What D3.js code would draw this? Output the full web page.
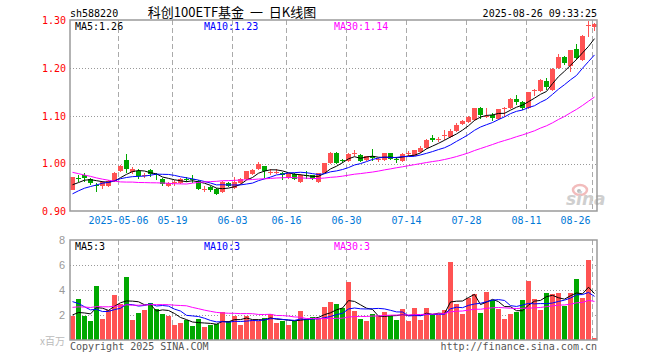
<!DOCTYPE html>
<html>
<head>
<meta charset="utf-8">
<script src="https://cdn.jsdelivr.net/npm/d3@7"></script>
<style>
  body { margin: 0; background: #fff; }
</style>
</head>
<body>
<svg id="chart" width="660" height="360"></svg>
<script>
const dates = [
  '2025-04-21','2025-04-22','2025-04-23','2025-04-24','2025-04-25','2025-04-28','2025-04-29','2025-04-30',
  '2025-05-06','2025-05-07','2025-05-08','2025-05-09','2025-05-12','2025-05-13','2025-05-14','2025-05-15','2025-05-16',
  '2025-05-19','2025-05-20','2025-05-21','2025-05-22','2025-05-23','2025-05-26','2025-05-27','2025-05-28','2025-05-29','2025-05-30',
  '2025-06-03','2025-06-04','2025-06-05','2025-06-06','2025-06-09','2025-06-10','2025-06-11','2025-06-12','2025-06-13',
  '2025-06-16','2025-06-17','2025-06-18','2025-06-19','2025-06-20','2025-06-23','2025-06-24','2025-06-25','2025-06-26','2025-06-27',
  '2025-06-30','2025-07-01','2025-07-02','2025-07-03','2025-07-04','2025-07-07','2025-07-08','2025-07-09','2025-07-10','2025-07-11',
  '2025-07-14','2025-07-15','2025-07-16','2025-07-17','2025-07-18','2025-07-21','2025-07-22','2025-07-23','2025-07-24','2025-07-25',
  '2025-07-28','2025-07-29','2025-07-30','2025-07-31','2025-08-01','2025-08-04','2025-08-05','2025-08-06','2025-08-07','2025-08-08',
  '2025-08-11','2025-08-12','2025-08-13','2025-08-14','2025-08-15','2025-08-18','2025-08-19','2025-08-20','2025-08-21','2025-08-22',
  '2025-08-25','2025-08-26'
];

const open = [
  0.945,0.970,0.977,0.968,0.955,0.953,0.954,0.963,0.985,1.008,
  0.983,0.984,0.974,0.986,0.978,0.968,0.954,0.959,0.960,0.969,
  0.969,0.963,0.945,0.951,0.947,0.940,0.960,0.950,0.960,0.969,
  0.979,0.988,0.995,0.981,0.981,0.980,0.970,0.979,0.962,0.976,
  0.976,0.962,0.981,1.001,1.023,1.007,1.005,1.021,1.019,1.007,
  1.016,1.008,1.008,1.022,1.010,1.006,1.021,1.017,1.024,1.032,
  1.053,1.050,1.058,1.055,1.068,1.083,1.087,1.091,1.116,1.097,
  1.102,1.093,1.116,1.117,1.136,1.130,1.117,1.152,1.153,1.173,
  1.155,1.200,1.223,1.205,1.241,1.217,1.289,1.286
];
const high = [
  0.973,0.977,0.981,0.971,0.960,0.963,0.966,0.983,0.998,1.021,
  0.993,0.990,0.981,0.990,0.981,0.971,0.962,0.966,0.970,0.972,
  0.977,0.965,0.953,0.953,0.949,0.963,0.961,0.972,0.971,0.985,
  0.990,1.003,0.996,0.990,0.988,0.982,0.981,0.980,0.978,0.985,
  0.977,0.981,1.002,1.024,1.024,1.010,1.022,1.028,1.020,1.017,
  1.030,1.013,1.023,1.023,1.014,1.022,1.027,1.029,1.037,1.051,
  1.060,1.057,1.070,1.073,1.085,1.092,1.099,1.117,1.118,1.117,
  1.107,1.115,1.118,1.137,1.144,1.132,1.151,1.157,1.177,1.179,
  1.200,1.230,1.225,1.239,1.251,1.269,1.300,1.294
];
const low = [
  0.944,0.962,0.961,0.955,0.941,0.948,0.952,0.962,0.983,0.981,
  0.979,0.968,0.970,0.973,0.966,0.954,0.951,0.954,0.958,0.962,
  0.960,0.945,0.940,0.940,0.934,0.938,0.951,0.948,0.958,0.967,
  0.977,0.986,0.970,0.977,0.978,0.966,0.969,0.965,0.960,0.968,
  0.966,0.960,0.980,1.000,1.000,1.001,1.004,1.016,1.004,1.005,
  1.005,1.003,1.006,1.007,1.001,1.004,1.017,1.016,1.022,1.030,
  1.046,1.046,1.050,1.053,1.066,1.081,1.085,1.090,1.093,1.096,
  1.089,1.092,1.097,1.115,1.123,1.113,1.115,1.141,1.150,1.155,
  1.153,1.198,1.207,1.193,1.218,1.215,1.265,1.277
];
const close = [
  0.972,0.968,0.970,0.960,0.953,0.961,0.963,0.981,0.996,0.988,
  0.990,0.974,0.976,0.978,0.976,0.957,0.960,0.961,0.968,0.966,
  0.967,0.948,0.947,0.946,0.937,0.961,0.954,0.962,0.969,0.984,
  0.987,0.999,0.984,0.983,0.983,0.976,0.980,0.969,0.977,0.974,
  0.968,0.980,1.001,1.023,1.002,1.005,1.021,1.023,1.006,1.016,
  1.013,1.010,1.022,1.009,1.008,1.021,1.023,1.028,1.034,1.050,
  1.050,1.052,1.060,1.068,1.082,1.090,1.098,1.116,1.103,1.099,
  1.095,1.114,1.117,1.136,1.130,1.117,1.150,1.154,1.176,1.160,
  1.199,1.223,1.211,1.238,1.221,1.268,1.291,1.292
];
// volume in millions of shares
const volume = [
  1.92,3.28,1.92,1.52,4.32,1.68,2.4,3.6,2.9,5.04,
  1.6,2.16,2.4,2.96,2.45,2.08,1.92,1.2,1.36,1.6,
  1.12,1.68,1.04,1.2,1.28,2.24,1.52,1.92,1.2,1.92,
  1.6,1.52,1.76,2.08,1.36,1.52,1.2,1.52,2.32,1.68,
  1.84,1.68,2.64,3.04,2.88,2.56,4.64,2.32,1.68,1.52,
  2.08,1.92,2.24,1.92,1.6,2.48,1.52,2.56,1.6,2.56,
  2.0,2.0,2.4,6.24,2.88,2.08,3.4,3.65,2.16,3.84,
  3.2,2.5,1.68,2.1,2.24,3.2,4.72,3.28,2.4,3.76,
  3.7,3.76,2.72,3.76,4.88,3.36,6.4,0.16
];

// sessions before the visible window, estimated from where the MA lines start
const prevClose = [
  1.05,1.06,1.04,1.05,1.04,1.03,1.04,1.042,1.00,0.99,
  1.00,0.98,0.99,0.98,0.97,0.98,0.985,0.978,0.975,0.91,
  0.905,0.915,0.925,0.92,0.925,0.945,0.945,0.955,0.963
];
const prevVolume = [
  2.0,2.4,2.6,2.2,2.1,2.5,2.3,2.0,2.4,2.6,
  2.2,1.9,2.1,2.3,2.0,2.2,2.4,2.1,2.3,5.0,
  4.8,4.5,4.0,3.9,3.48,2.3,2.1,1.9,1.8
];

const priceTicks = [0.9, 1.0, 1.1, 1.2, 1.3];
const volumeTicks = [2, 4, 6, 8];
const tickDates = ['2025-05-06','2025-05-19','2025-06-03','2025-06-16','2025-06-30','2025-07-14','2025-07-28','2025-08-11','2025-08-26'];
const tickLabels = ['2025-05-06','05-19','06-03','06-16','06-30','07-14','07-28','08-11','08-26'];

const RED = '#ff5353', GREEN = '#00a800';
const mono = '"DejaVu Sans Mono", monospace';

const svg = d3.select('#chart');

const x = d3.scaleBand().domain(dates).range([70, 598]);
const y = d3.scaleLinear().domain([0.9, 1.3]).range([211.5, 20.5]);
const yv = d3.scaleLinear().domain([0, 8]).range([340, 240]);
const cx = d => x(d) + 2.5;

const movingAvg = (series, prev, n) => {
  const all = prev.concat(series);
  return series.map((_, i) => d3.mean(all.slice(i + prev.length - n + 1, i + prev.length + 1)));
};

const rows = dates.map((d, i) => ({
  date: d, o: open[i], h: high[i], l: low[i], c: close[i], v: volume[i],
  up: close[i] >= open[i]
}));

// grid
const grid = svg.append('g');
grid.selectAll('.hgrid')
  .data([1.0, 1.1, 1.2])
  .enter().append('line')
  .attr('x1', 70).attr('x2', 597)
  .attr('y1', d => Math.round(y(d)) + 0.5).attr('y2', d => Math.round(y(d)) + 0.5)
  .attr('stroke', '#999').attr('stroke-dasharray', '1,2');
grid.selectAll('.vgrid')
  .data([2, 4, 6])
  .enter().append('line')
  .attr('x1', 70).attr('x2', 597)
  .attr('y1', d => Math.round(yv(d)) + 0.5).attr('y2', d => Math.round(yv(d)) + 0.5)
  .attr('stroke', '#999').attr('stroke-dasharray', '1,2');
[[20, 211], [240, 340]].forEach(([t, b]) => {
  grid.append('g').selectAll('line')
    .data(tickDates)
    .enter().append('line')
    .attr('x1', d => x(d) + 0.5).attr('x2', d => x(d) + 0.5)
    .attr('y1', t).attr('y2', b)
    .attr('stroke', '#aaa').attr('stroke-dasharray', '5,3');
});

// sina watermark
const wm = svg.append('g');
wm.append('ellipse').attr('cx', 580).attr('cy', 190).attr('rx', 7).attr('ry', 5)
  .attr('fill', 'none').attr('stroke', '#f2bcbc').attr('stroke-width', 2.5);
wm.append('circle').attr('cx', 579).attr('cy', 191).attr('r', 2).attr('fill', '#bbb');
wm.append('text').attr('x', 566).attr('y', 205)
  .attr('font-family', 'DejaVu Sans').attr('font-size', 17).attr('font-weight', 'bold')
  .attr('font-style', 'italic').attr('fill', '#cfcfcf').text('sina');

// candles
const candles = svg.append('g').attr('shape-rendering', 'crispEdges');
candles.selectAll('.wick')
  .data(rows)
  .enter().append('line')
  .attr('x1', d => cx(d.date)).attr('x2', d => cx(d.date))
  .attr('y1', d => y(d.h)).attr('y2', d => y(d.l))
  .attr('stroke', d => d.up ? RED : GREEN);
candles.selectAll('.body')
  .data(rows)
  .enter().append('rect')
  .attr('x', d => x(d.date))
  .attr('width', 5)
  .attr('y', d => y(Math.max(d.o, d.c)))
  .attr('height', d => Math.max(1, y(Math.min(d.o, d.c)) - y(Math.max(d.o, d.c))))
  .attr('fill', d => d.up ? RED : GREEN);

// volume bars
svg.append('g').attr('shape-rendering', 'crispEdges')
  .selectAll('rect')
  .data(rows)
  .enter().append('rect')
  .attr('x', d => x(d.date))
  .attr('width', 5)
  .attr('y', d => yv(d.v))
  .attr('height', d => 340 - yv(d.v))
  .attr('fill', d => d.up ? RED : GREEN);

// moving averages
const maDefs = [
  { n: 5, color: '#000', lx: 75 },
  { n: 10, color: '#0000ff', lx: 204 },
  { n: 30, color: '#ff00ff', lx: 334 }
];
maDefs.forEach(m => {
  const pm = movingAvg(close, prevClose, m.n);
  const vm = movingAvg(volume, prevVolume, m.n);
  svg.append('path')
    .datum(pm)
    .attr('fill', 'none').attr('stroke', m.color).attr('stroke-width', 1)
    .attr('d', d3.line().x((d, i) => cx(dates[i])).y(d => y(d)));
  svg.append('path')
    .datum(vm)
    .attr('fill', 'none').attr('stroke', m.color).attr('stroke-width', 1)
    .attr('d', d3.line().x((d, i) => cx(dates[i])).y(d => yv(d)));
  svg.append('text').attr('x', m.lx).attr('y', 30)
    .attr('font-family', mono).attr('font-size', 10).attr('fill', m.color)
    .text(`MA${m.n}:${pm[pm.length - 1].toFixed(2)}`);
  svg.append('text').attr('x', m.lx).attr('y', 250)
    .attr('font-family', mono).attr('font-size', 10).attr('fill', m.color)
    .text(`MA${m.n}:${Math.floor(vm[vm.length - 1])}`);
});

// frames
svg.append('rect').attr('x', 70).attr('y', 20).attr('width', 527).attr('height', 191)
  .attr('fill', 'none').attr('stroke', '#9a9a9a').attr('stroke-width', 1.5);
svg.append('rect').attr('x', 70).attr('y', 240).attr('width', 527).attr('height', 100)
  .attr('fill', 'none').attr('stroke', '#9a9a9a').attr('stroke-width', 1.5);

// price axis
svg.append('g')
  .attr('transform', 'translate(70,0)')
  .call(d3.axisLeft(y).tickValues(priceTicks).tickFormat(d3.format('.2f')).tickSize(0).tickPadding(4))
  .call(g => g.select('.domain').remove())
  .selectAll('text')
  .attr('font-family', mono).attr('font-size', 10).attr('fill', '#f00');

// volume axis
svg.append('g')
  .attr('transform', 'translate(70,0)')
  .call(d3.axisLeft(yv).tickValues(volumeTicks).tickSize(0).tickPadding(5))
  .call(g => g.select('.domain').remove())
  .selectAll('text')
  .attr('font-family', 'Liberation Sans, sans-serif').attr('font-size', 11).attr('fill', '#999');
svg.append('text').attr('x', 65).attr('y', 345).attr('text-anchor', 'end')
  .attr('font-family', 'Noto Sans CJK SC, sans-serif').attr('font-size', 10).attr('fill', '#bbb')
  .text('x百万');

// date axis
const dateAxis = svg.append('g')
  .attr('transform', 'translate(-2.5,211)')
  .call(d3.axisBottom(x).tickValues(tickDates).tickFormat((d, i) => tickLabels[i]).tickSize(0).tickPadding(6))
  .call(g => g.select('.domain').remove());
dateAxis.selectAll('text')
  .attr('font-family', mono).attr('font-size', 10).attr('fill', '#0078d7');
dateAxis.selectAll('text').filter((d, i) => i === tickDates.length - 1)
  .attr('text-anchor', 'end').attr('dx', '-0.2em');

// header
svg.append('text').attr('x', 70).attr('y', 17)
  .attr('font-family', mono).attr('font-size', 10).attr('fill', '#000')
  .text('sh588220');
svg.append('text').attr('x', 232).attr('y', 17).attr('text-anchor', 'middle')
  .style('white-space', 'pre')
  .attr('font-family', '"Noto Sans CJK SC", sans-serif').attr('font-size', 13).attr('fill', '#000')
  .text('科创100ETF基金  一  日K线图');
svg.append('text').attr('x', 597).attr('y', 17).attr('text-anchor', 'end')
  .attr('font-family', mono).attr('font-size', 10).attr('fill', '#000')
  .text('2025-08-26 09:33:25');

// footer
svg.append('text').attr('x', 70).attr('y', 350)
  .attr('font-family', mono).attr('font-size', 10).attr('fill', '#555')
  .text('Copyright 2025 SINA.COM');
svg.append('text').attr('x', 597).attr('y', 350).attr('text-anchor', 'end')
  .attr('font-family', mono).attr('font-size', 10).attr('fill', '#555')
  .text('http://finance.sina.com.cn');
</script>
</body>
</html>
